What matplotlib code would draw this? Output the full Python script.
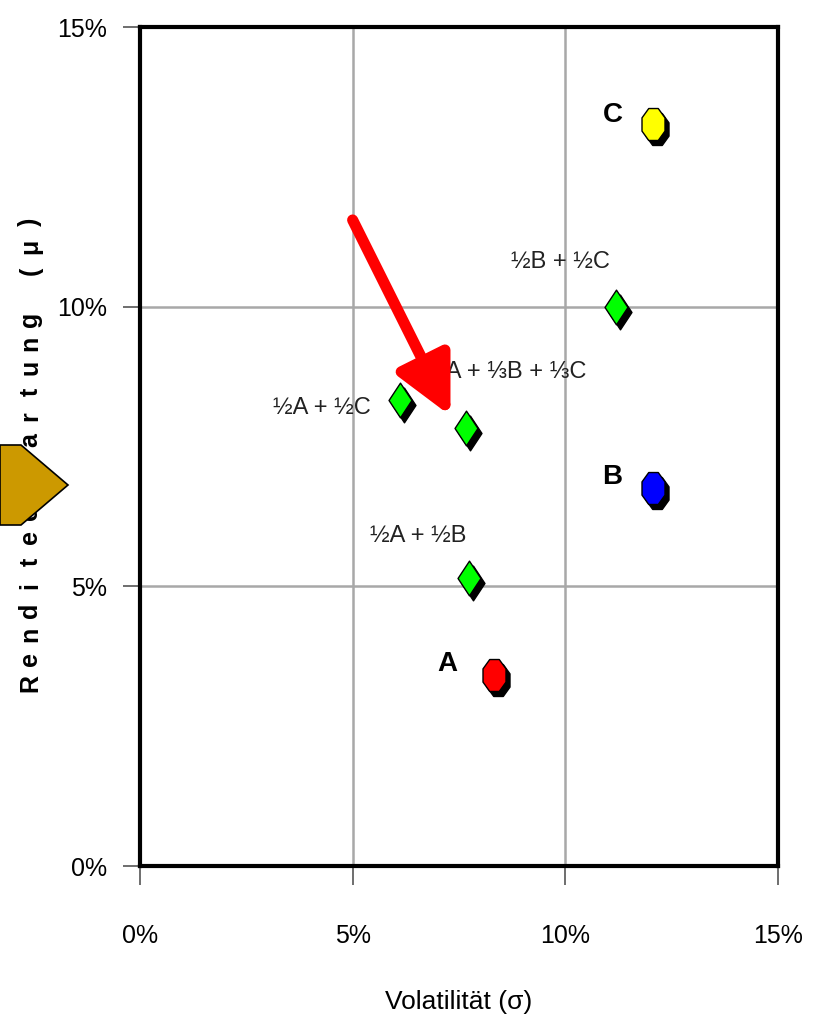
import numpy as np
import matplotlib.pyplot as plt
from matplotlib.path import Path
from matplotlib.patches import Polygon
from matplotlib import transforms

plt.rcParams['font.family'] = ['Liberation Sans', 'DejaVu Sans']

# Einzelanlagen
asset_names = ['A', 'B', 'C']
asset_vol = [8.33, 12.05, 12.07]
asset_ret = [3.41, 6.76, 13.27]
asset_colors = ['#ff0000', '#0000ff', '#ffff00']

# Portfolios
port_names = ['½A + ½B', '½A + ½C', '½B + ½C', '⅓A + ⅓B + ⅓C']
port_vol = [7.74, 6.12, 11.18, 7.67]
port_ret = [5.15, 8.33, 10.0, 7.83]

ticks = [0, 5, 10, 15]
tick_labels = ['0%', '5%', '10%', '15%']

# gestreckte Marker (höher als breit)
ang = np.deg2rad(np.arange(8) * 45 + 22.5)
octagon = Path(np.c_[0.72 * np.cos(ang), np.sin(ang)].tolist() + [[0.72 * np.cos(ang[0]), np.sin(ang[0])]], closed=True)
diamond = Path([[0, 1], [0.66, 0], [0, -1], [-0.66, 0], [0, 1]], closed=True)

fig = plt.figure(figsize=(8.18, 10.16), dpi=100)
ax = fig.add_axes([0.1711, 0.1476, 0.78, 0.8258])
ax.set_xlim(0, 15)
ax.set_ylim(0, 15)

for v in [5, 10]:
    ax.axvline(v, color='#a8a8a8', lw=1.8, zorder=0)
    ax.axhline(v, color='#a8a8a8', lw=1.8, zorder=0)

shadow = transforms.offset_copy(ax.transData, fig=fig, x=4, y=-5, units='dots')

ax.plot(port_vol, port_ret, ls='none', marker=diamond, ms=25, color='black', transform=shadow, zorder=2)
ax.plot(port_vol, port_ret, ls='none', marker=diamond, ms=25, mfc='#00ff00', mec='black', mew=1, zorder=3)
ax.plot(asset_vol, asset_ret, ls='none', marker=octagon, ms=23, color='black', transform=shadow, zorder=2)
for x, y, c in zip(asset_vol, asset_ret, asset_colors):
    ax.plot(x, y, ls='none', marker=octagon, ms=23, mfc=c, mec='black', mew=1, zorder=3)

# Beschriftungen
asset_offsets = [(-1.1, 0.2), (-0.95, 0.2), (-0.95, 0.15)]
for n, x, y, (dx, dy) in zip(asset_names, asset_vol, asset_ret, asset_offsets):
    ax.text(x + dx, y + dy, n, fontsize=20, fontweight='bold', ha='center', va='center', zorder=4)

port_offsets = [(-1.2, 0.75), (-1.85, -0.15), (-1.3, 0.8), (0.95, 1.0)]
for n, x, y, (dx, dy) in zip(port_names, port_vol, port_ret, port_offsets):
    ax.text(x + dx, y + dy, n, fontsize=17, color='#222222', ha='center', va='center', zorder=4)

# roter Pfeil
ax.annotate('', xy=(7.3, 8.05), xytext=(5.0, 11.55),
            arrowprops=dict(arrowstyle='-|>,head_length=1.6,head_width=0.8', mutation_scale=22,
                            color='#ff0000', lw=8, shrinkA=0, shrinkB=0), zorder=5)

ax.set_xticks(ticks)
ax.set_xticklabels(tick_labels)
ax.set_yticks(ticks)
ax.set_yticklabels(tick_labels)
ax.tick_params(axis='x', length=14, width=1.2, color='#555555', pad=28, labelsize=18)
ax.tick_params(axis='y', length=12, width=1.2, color='#555555', pad=12, labelsize=18)
for side in ['left', 'bottom', 'top', 'right']:
    ax.spines[side].set_linewidth(3)

ax.set_xlabel('Volatilität (σ)', fontsize=19, labelpad=30)

# y-Beschriftung mit Sperrung, Buchstabe für Buchstabe
ylabel = 'Renditeerwartung (μ)'
y0, y1 = 1 - 683 / 1016, 1 - 222 / 1016
for i, ch in enumerate(ylabel):
    fig.text(0.037, y0 + (y1 - y0) * i / (len(ylabel) - 1), ch, rotation=90, fontsize=18,
             fontweight='bold', ha='center', va='center')

# orangener Pfeil am linken Rand
fig.patches.append(Polygon([[0, 1 - 445 / 1016], [21 / 818, 1 - 445 / 1016], [68 / 818, 1 - 485 / 1016],
                            [21 / 818, 1 - 525 / 1016], [0, 1 - 525 / 1016]], closed=True,
                           transform=fig.transFigure, facecolor='#cc9900', edgecolor='black', lw=1.2, zorder=10))

fig.savefig('out.png', dpi=100)
